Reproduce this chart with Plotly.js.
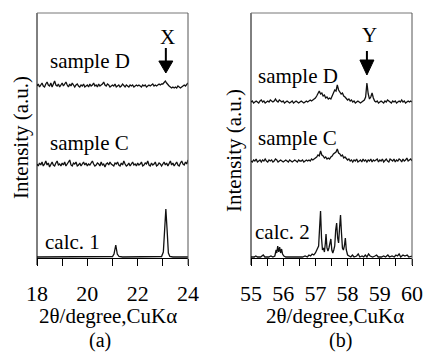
<!DOCTYPE html>
<html>
<head>
<meta charset="utf-8">
<script src="https://cdn.plot.ly/plotly-3.0.1.min.js"></script>
<style>html,body{margin:0;padding:0;background:#fff;}#chart{width:425px;height:352px;}</style>
</head>
<body>
<div id="chart"></div>
<script>
// ---------- DATA ----------
// Panel (a): scan 18-24 deg, step 0.05 (121 points); intensities in a.u. relative to each baseline
const scanA = {start: 18, step: 0.05, n: 121};
const sampleD_a = [
  0,2,-1,1,3,0,-1,2,4,1,0,3,-1,2,5,1,0,2,-1,1,
  3,0,2,4,1,-1,2,0,3,1,-1,1,2,0,-1,1,0,2,-1,0,
  1,-1,2,0,1,3,0,1,-1,2,0,1,2,4,1,0,2,1,-1,0,
  1,0,2,-1,0,1,-1,0,2,0,-1,1,0,-1,1,0,1,-1,0,1,
  0,1,0,-1,1,0,1,-1,0,1,0,1,2,0,1,0,1,2,1,2,
  2,4,5,3,1,0,-1,-2,-1,-2,-1,-2,0,-1,-2,-1,0,1,0,2,3
];
const sampleC_a = [
  1,-1,2,0,3,-1,1,4,0,2,-2,1,3,0,-1,2,4,0,1,-1,
  2,0,3,-1,1,2,5,0,-1,2,1,3,-1,0,2,-1,1,3,0,2,
  -1,1,0,2,4,1,-1,0,2,1,-1,3,0,1,-2,1,2,0,3,1,
  0,-1,2,1,3,0,-1,2,0,4,1,-1,0,2,-1,1,3,0,1,-1,
  2,0,1,3,-1,0,2,1,4,0,-1,2,0,1,3,-1,0,2,1,-1,
  1,3,0,2,-1,1,4,0,2,-1,1,3,0,-1,2,4,1,0,3,1,5
];
const calc1X = [18.0,20.9,21.0,21.06,21.13,21.19,21.26,21.4,22.8,22.95,23.02,23.07,23.12,23.17,23.22,23.28,23.4,24.0];
const calc1Y = [1,1,1.5,4,13,4,1.5,1,1,1.5,6,28,49,28,5,1.5,1,1];

// Panel (b): scan 55-60 deg, step 0.04 (126 points)
const scanB = {start: 55, step: 0.04, n: 126};
const sampleD_b = [
  0,1,-1,0,1,0,-1,1,2,0,1,-1,0,1,0,2,1,0,1,3,1,0,2,1,0,
  1,-1,0,1,0,-1,0,1,-1,0,1,0,-1,0,1,0,-1,0,1,0,1,2,1,2,3,
  4,6,9,11,8,9,6,7,4,5,3,4,3,6,8,12,11,17,12,10,8,9,6,5,3,
  2,3,1,2,0,1,-1,0,1,0,-1,0,1,2,5,19,8,3,5,9,4,1,0,1,-1,
  0,1,0,-1,1,0,2,1,0,-1,1,0,1,-1,0,1,0,2,0,1,-1,0,1,0,1,0
];
const sampleC_b = [
  0,-1,1,0,2,-1,0,1,-1,1,0,2,0,-1,1,0,1,-1,0,2,1,-1,0,1,0,
  -1,0,1,0,-1,1,0,-1,0,1,0,-1,1,0,0,1,-1,0,1,0,1,0,2,1,2,
  3,4,6,5,10,6,5,3,4,2,3,2,4,5,7,8,9,12,8,7,5,6,3,4,2,
  1,2,0,1,-1,1,0,2,-1,0,1,-1,2,0,1,-1,1,0,2,-1,1,0,1,2,-1,
  1,0,2,-1,1,2,0,-1,2,1,0,2,-1,1,0,2,1,-1,2,0,1,3,0,1,2,0
];
const calc2X = [55.00,55.10,55.15,55.20,55.30,55.38,55.43,55.55,55.62,55.68,55.74,55.78,55.80,55.83,55.86,55.89,55.92,55.95,55.98,56.02,56.08,56.20,56.30,56.40,56.50,56.60,56.68,56.75,56.80,56.85,56.90,56.95,57.00,57.05,57.10,57.13,57.16,57.19,57.22,57.25,57.28,57.31,57.33,57.36,57.39,57.42,57.45,57.48,57.51,57.54,57.57,57.60,57.63,57.66,57.69,57.72,57.75,57.78,57.81,57.84,57.87,57.90,57.93,57.96,58.00,58.05,58.10,58.15,58.20,58.28,58.33,58.38,58.45,58.50,58.55,58.60,58.65,58.70,58.78,58.85,58.90,58.95,59.05,59.12,59.18,59.25,59.30,59.38,59.45,59.50,59.55,59.60,59.65,59.72,59.78,59.85,59.90,60.00];
const calc2Y = [1,1,2,1,1,3,1,1,2,1,2,8,5,12,6,11,5,9,4,2,1,1,1,1,1,1,2,1,3,2,4,3,5,8,12,30,47,20,8,10,6,15,24,10,7,10,15,19,8,5,8,12,28,35,20,15,30,43,25,10,8,12,20,8,3,2,1,3,1,2,4,1,2,1,3,1,4,2,1,2,3,1,1,2,1,3,1,2,1,3,2,4,1,3,2,3,1,2];

// baselines (stack offsets) of each curve
const offsetsA = {D: 172, C: 93, calc: 0};
const offsetsB = {D: 156, C: 97, calc: 0};

const ticksA = [18,19,20,21,22,23,24];
const tickTextA = ['18','','20','','22','','24'];
const ticksB = [55,55.5,56,56.5,57,57.5,58,58.5,59,59.5,60];
const tickTextB = ['55','','56','','57','','58','','59','','60'];

const markX = 23.12, markY = 58.6;

// ---------- BUILD ----------
function grid(s){ const a=[]; for(let i=0;i<s.n;i++) a.push(+(s.start+i*s.step).toFixed(3)); return a; }
const xa = grid(scanA), xb = grid(scanB);
const ln = {color:'#111', width:1.3};
const traces = [
  {x: xa, y: sampleD_a.map(v=>v+offsetsA.D), xaxis:'x', yaxis:'y', mode:'lines', line:ln},
  {x: xa, y: sampleC_a.map(v=>v+offsetsA.C), xaxis:'x', yaxis:'y', mode:'lines', line:ln},
  {x: calc1X, y: calc1Y.map(v=>v+offsetsA.calc), xaxis:'x', yaxis:'y', mode:'lines', line:ln},
  {x: xb, y: sampleD_b.map(v=>v+offsetsB.D), xaxis:'x2', yaxis:'y2', mode:'lines', line:ln},
  {x: xb, y: sampleC_b.map(v=>v+offsetsB.C), xaxis:'x2', yaxis:'y2', mode:'lines', line:ln},
  {x: calc2X, y: calc2Y.map(v=>v+offsetsB.calc), xaxis:'x2', yaxis:'y2', mode:'lines', line:ln}
];

const W=425, H=352;
const PX = p => p/W, PY = p => 1 - p/H;
const FONT = 'Liberation Serif, Times New Roman, serif';

const xBase = {
  showline:true, linecolor:'#000', linewidth:1, ticks:'outside', ticklen:7, tickcolor:'#000', tickwidth:1,
  showgrid:false, zeroline:false, tickfont:{family:FONT, size:22, color:'#000'}, ticklabelstandoff:9,
  fixedrange:true
};
const yBase = {range:[0,245], showline:false, showticklabels:false, ticks:'', showgrid:false, zeroline:false,
  domain:[PY(258), PY(13)]};

function ann(text, px, py, opts){
  return Object.assign({text, x:PX(px), y:PY(py), xref:'paper', yref:'paper', showarrow:false,
    xanchor:'center', yanchor:'middle', font:{family:FONT, size:21, color:'#000'}}, opts||{});
}
const annotations = [
  ann('sample D', 48, 61, {xanchor:'left'}),
  ann('sample C', 48, 143, {xanchor:'left'}),
  ann('calc. 1', 43, 242, {xanchor:'left'}),
  ann('X', 167, 37),
  ann('sample D', 256, 76, {xanchor:'left'}),
  ann('sample C', 256, 138, {xanchor:'left'}),
  ann('calc. 2', 253, 232, {xanchor:'left'}),
  ann('Y', 369, 35),
  ann('Intensity (a.u.)', 21, 138, {textangle:-90}),
  ann('Intensity (a.u.)', 234, 150, {textangle:-90}),
  ann('2θ/degree,CuKα', 108, 316),
  ann('(a)', 100, 340, {font:{family:FONT, size:20, color:'#000'}}),
  ann('2θ/degree,CuKα', 335, 316),
  ann('(b)', 340, 340, {font:{family:FONT, size:20, color:'#000'}})
];

function frame(l, r){
  return [
    {type:'line', xref:'paper', yref:'paper', x0:PX(l), x1:PX(l), y0:PY(265), y1:PY(13), line:{color:'#000', width:1}},
    {type:'line', xref:'paper', yref:'paper', x0:PX(l), x1:PX(r), y0:PY(13), y1:PY(13), line:{color:'#777', width:1}},
    {type:'line', xref:'paper', yref:'paper', x0:PX(r), x1:PX(r), y0:PY(13), y1:PY(265), line:{color:'#555', width:1}}
  ];
}
function arrow(xref, yref, xv, yTop, yHeadBase, yTip, half){
  return [
    {type:'line', xref, yref, x0:xv, x1:xv, y0:yTop, y1:yHeadBase, line:{color:'#000', width:2}},
    {type:'path', xref, yref, xsizemode:'pixel', xanchor:xv,
     path:`M ${-half} ${yHeadBase} L ${half} ${yHeadBase} L 0 ${yTip} Z`, fillcolor:'#000', line:{color:'#000', width:1}}
  ];
}
const shapes = [].concat(
  frame(37,188), frame(251,412),
  arrow('x','y', markX, 258-48, 258-61, 258-73, 7),
  arrow('x2','y2', markY, 258-51, 258-60, 258-75, 7)
);

const layout = {
  width:W, height:H, margin:{l:0,r:0,t:0,b:0}, paper_bgcolor:'#fff', plot_bgcolor:'#fff', showlegend:false,
  font:{family:FONT},
  xaxis: Object.assign({}, xBase, {domain:[PX(37),PX(188)], range:[18,24], tickvals:ticksA, ticktext:tickTextA, anchor:'y'}),
  xaxis2: Object.assign({}, xBase, {domain:[PX(251),PX(412)], range:[55,60], tickvals:ticksB, ticktext:tickTextB, anchor:'y2'}),
  yaxis: Object.assign({}, yBase, {anchor:'x'}),
  yaxis2: Object.assign({}, yBase, {anchor:'x2'}),
  annotations, shapes
};
Plotly.newPlot('chart', traces, layout, {staticPlot:true, displayModeBar:false});
</script>
</body>
</html>
